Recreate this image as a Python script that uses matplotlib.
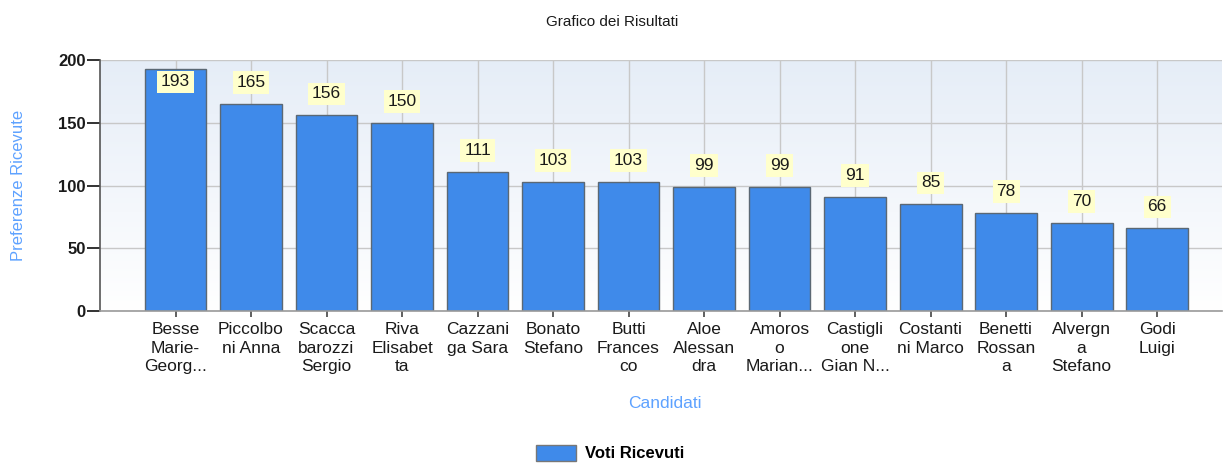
import matplotlib
matplotlib.use("Agg")
import matplotlib.pyplot as plt
import numpy as np
from matplotlib.patches import Patch

plt.rcParams['font.family'] = ['Liberation Sans', 'DejaVu Sans']

labels = ["Besse\nMarie-\nGeorg...", "Piccolbo\nni Anna", "Scacca\nbarozzi\nSergio",
          "Riva\nElisabet\nta", "Cazzani\nga Sara", "Bonato\nStefano",
          "Butti\nFrances\nco", "Aloe\nAlessan\ndra", "Amoros\no\nMarian...",
          "Castigli\none\nGian N...", "Costanti\nni Marco", "Benetti\nRossan\na",
          "Alvergn\na\nStefano", "Godi\nLuigi"]
votes = [193, 165, 156, 150, 111, 103, 103, 99, 99, 91, 85, 78, 70, 66]
y_ticks = [0, 50, 100, 150, 200]

W, H = 1223, 463
fig = plt.figure(figsize=(W / 100, H / 100), dpi=100)
ax = fig.add_axes([100 / W, (H - 311) / H, (1222 - 100) / W, (311 - 60) / H])

x = np.arange(1, len(votes) + 1)
ax.set_xlim(0, 14.86)
ax.set_ylim(0, 200)

# gradient background
grad = np.linspace(0, 1, 256).reshape(-1, 1)
top = np.array([0.90, 0.93, 0.97])
bot = np.array([1.0, 1.0, 1.0])
img = bot + (top - bot) * grad
ax.imshow(img[:, None, :].repeat(2, axis=1), extent=[0, 1, 0, 1], transform=ax.transAxes,
          aspect='auto', origin='lower', zorder=0)

for xv in x:
    ax.axvline(xv, color='#c8c8c8', lw=1, zorder=1)
for yv in y_ticks[1:]:
    ax.axhline(yv, color='#c8c8c8', lw=1, zorder=1)

ax.bar(x, votes, width=0.82, color='#3f8aea', edgecolor='#5b6874', linewidth=1, zorder=2)

for xv, v in zip(x, votes):
    ypos = min(v + 17, 182.5)
    ax.text(xv, ypos, str(v), ha='center', va='center', fontsize=12.5, color='#1a1a1a', zorder=4,
            bbox=dict(boxstyle='square,pad=0.22', facecolor='#ffffcc', edgecolor='none'))

ax.set_xticks(x)
ax.set_xticklabels(labels, fontsize=12.5, linespacing=1.3, color='#1a1a1a')
ax.set_yticks(y_ticks)
ax.set_yticklabels([str(t) for t in y_ticks], fontsize=12, fontweight='bold', color='#1a1a1a')
ax.tick_params(axis='y', length=9.5, width=1.3, color='#222222', pad=1)
ax.tick_params(axis='x', length=4, width=1.2, color='#444444', pad=4)

for s in ['top', 'right']:
    ax.spines[s].set_visible(False)
ax.spines['left'].set_color('#555555')
ax.spines['bottom'].set_color('#999999')
ax.spines['left'].set_linewidth(1.2)
ax.spines['bottom'].set_linewidth(1.2)

ax.set_ylabel("Preferenze Ricevute", color='#5ea2ff', fontsize=12)
ax.yaxis.set_label_coords(-74 / 1122, 0.5)
fig.text(665 / W, 1 - 403 / H, "Candidati", color='#5ea2ff', fontsize=12.5, ha='center', va='center')
fig.text(612 / W, 1 - 22 / H, "Grafico dei Risultati", fontsize=11, ha='center', va='center',
         color='#1a1a1a')

fig.legend(handles=[Patch(facecolor='#3f8aea', edgecolor='#777777', label='Voti Ricevuti')],
           loc='center', bbox_to_anchor=(610 / W, 1 - 453 / H), frameon=False,
           prop={'weight': 'bold', 'size': 12}, handlelength=2.4, handleheight=1.1,
           handletextpad=0.5)

fig.savefig("out.png", dpi=100)
